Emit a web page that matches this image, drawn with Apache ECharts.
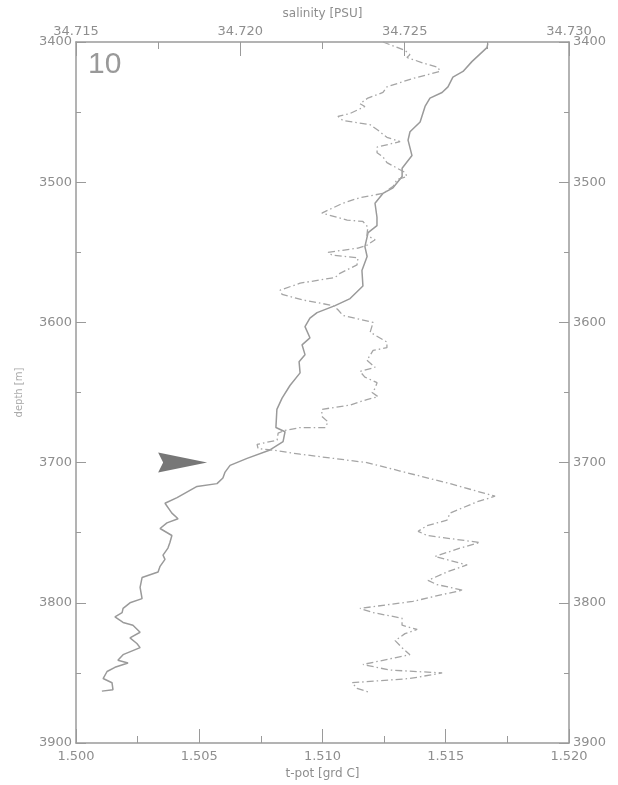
<!DOCTYPE html>
<html>
<head>
<meta charset="utf-8">
<script src="https://cdn.jsdelivr.net/npm/echarts@6/dist/echarts.min.js"></script>
<style>
  html, body { margin: 0; padding: 0; background: #fff; }
  #chart { width: 618px; height: 785px; }
</style>
</head>
<body>
<div id="chart"></div>
<script>
// axis ticks
const tpotTicks = [1.500, 1.505, 1.510, 1.515, 1.520]
const salTicks = [34.715, 34.720, 34.725, 34.730]
const depthTicks = [3400, 3500, 3600, 3700, 3800, 3900]

// potential temperature profile (solid)
const tpotDepth = [
  3401, 3404, 3414, 3421, 3425, 3432, 3436, 3440, 3446, 3457, 3464, 3470, 3481, 3490, 3496,
  3504, 3508, 3515, 3525, 3531, 3536, 3546, 3553, 3563, 3574, 3583, 3588, 3593, 3597,
  3603, 3611, 3616, 3623, 3628, 3636, 3645, 3654, 3662, 3675, 3678, 3685, 3691, 3697,
  3702, 3707, 3711, 3715, 3717, 3725, 3729, 3736, 3740, 3743, 3747, 3752, 3757, 3761,
  3766, 3769, 3774, 3778, 3782, 3789, 3797, 3800, 3804, 3807, 3810, 3814, 3816, 3821,
  3825, 3829, 3832, 3837, 3841, 3843, 3846, 3849, 3854, 3857, 3862, 3863
]
const tpot = [
  1.51671, 1.51667, 1.51606, 1.51570, 1.51529, 1.51509, 1.51485, 1.51436, 1.51416, 1.51396, 1.51355, 1.51347, 1.51363, 1.51323, 1.51323,
  1.51286, 1.51245, 1.51213, 1.51221, 1.51221, 1.51185, 1.51172, 1.51181, 1.51160, 1.51164, 1.51112, 1.51051, 1.50978, 1.50949,
  1.50929, 1.50949, 1.50917, 1.50929, 1.50905, 1.50909, 1.50868, 1.50836, 1.50815, 1.50811, 1.50848, 1.50840, 1.50787, 1.50694,
  1.50625, 1.50604, 1.50596, 1.50572, 1.50491, 1.50410, 1.50361, 1.50389, 1.50414, 1.50369, 1.50341, 1.50389, 1.50381, 1.50373,
  1.50353, 1.50361, 1.50341, 1.50333, 1.50268, 1.50260, 1.50268, 1.50219, 1.50191, 1.50187, 1.50158, 1.50191, 1.50231, 1.50260,
  1.50219, 1.50247, 1.50260, 1.50191, 1.50170, 1.50211, 1.50158, 1.50126, 1.50110, 1.50146, 1.50150, 1.50105
]

// salinity profile (dash-dot)
const salDepth = [
  3400, 3406, 3409, 3411, 3415, 3418, 3421, 3426, 3432, 3436, 3440, 3444, 3446, 3451, 3453,
  3456, 3459, 3463, 3468, 3471, 3475, 3479, 3482, 3486, 3490, 3493, 3496, 3498, 3503, 3508,
  3511, 3515, 3522, 3527, 3528, 3532, 3538, 3541, 3545, 3547, 3550, 3552, 3554, 3559, 3565,
  3568, 3572, 3577, 3580, 3584, 3588, 3591, 3595, 3600, 3607, 3614, 3618, 3620, 3627, 3632,
  3635, 3639, 3643, 3647, 3650, 3653, 3655, 3659, 3662, 3667, 3671, 3675, 3675, 3677, 3679,
  3684, 3687, 3690, 3691, 3694, 3700, 3706, 3715, 3724, 3728, 3736, 3741, 3745, 3749, 3752,
  3757, 3761, 3767, 3773, 3778, 3784, 3787, 3791, 3794, 3799, 3804, 3807, 3811, 3816, 3819,
  3822, 3827, 3832, 3837, 3844, 3848, 3850, 3854, 3857, 3861, 3864
]
const salinity = [
  34.72434, 34.72501, 34.72516, 34.72507, 34.72556, 34.72601, 34.72608, 34.72525, 34.72446, 34.72434, 34.72388, 34.72364, 34.72379, 34.72334, 34.72297,
  34.72312, 34.72395, 34.72419, 34.72446, 34.72486, 34.72416, 34.72416, 34.72434, 34.72446, 34.72477, 34.72501, 34.72507, 34.72477, 34.72465, 34.72434,
  34.72364, 34.72312, 34.72248, 34.72325, 34.72373, 34.72388, 34.72385, 34.72410, 34.72385, 34.72358, 34.72267, 34.72279, 34.72358, 34.72355, 34.72303,
  34.72288, 34.72182, 34.72121, 34.72127, 34.72191, 34.72282, 34.72297, 34.72312, 34.72404, 34.72395, 34.72446, 34.72446, 34.72404, 34.72385, 34.72410,
  34.72364, 34.72379, 34.72416, 34.72410, 34.72401, 34.72419, 34.72385, 34.72334, 34.72248, 34.72248, 34.72267, 34.72258, 34.72182, 34.72136, 34.72115,
  34.72112, 34.72051, 34.72054, 34.72096, 34.72182, 34.72385, 34.72486, 34.72638, 34.72775, 34.72720, 34.72638, 34.72629, 34.72568, 34.72541, 34.72568,
  34.72729, 34.72668, 34.72592, 34.72690, 34.72629, 34.72571, 34.72598, 34.72677, 34.72617, 34.72525, 34.72364, 34.72404, 34.72492, 34.72492, 34.72538,
  34.72501, 34.72471, 34.72492, 34.72516, 34.72373, 34.72455, 34.72614, 34.72516, 34.72340, 34.72355, 34.72395
]

// arrow marking the interface: [t-pot, depth] of the tip
const arrowTip = [1.5053, 3700]

const GREY = '#8e8e8e'
const LINE = '#9a9a9a'

const chart = echarts.init(document.getElementById('chart'), null, { renderer: 'canvas' })

const axisCommon = {
  axisLine: { show: true, onZero: false, lineStyle: { color: LINE, width: 1.5 } },
  splitLine: { show: false },
  axisLabel: { color: GREY, fontSize: 13, fontFamily: 'DejaVu Sans' },
  nameTextStyle: { color: GREY, fontSize: 12, fontFamily: 'DejaVu Sans' },
  nameLocation: 'middle',
}

chart.setOption({
  animation: false,
  grid: { left: 76, top: 42, width: 493, height: 701, containLabel: false },
  xAxis: [
    {
      ...axisCommon,
      type: 'value',
      position: 'bottom',
      min: tpotTicks[0],
      max: tpotTicks[tpotTicks.length - 1],
      interval: 0.005,
      name: 't-pot [grd C]',
      nameGap: 25,
      axisTick: { inside: true, length: 14, lineStyle: { color: LINE } },
      minorTick: { show: true, splitNumber: 2, length: 7, lineStyle: { color: LINE } },
      axisLabel: { ...axisCommon.axisLabel, margin: 7, formatter: v => v.toFixed(3) },
    },
    {
      ...axisCommon,
      type: 'value',
      position: 'top',
      min: salTicks[0],
      max: salTicks[salTicks.length - 1],
      interval: 0.005,
      name: 'salinity [PSU]',
      nameGap: 22,
      axisTick: { inside: true, length: 14, lineStyle: { color: LINE } },
      minorTick: { show: true, splitNumber: 2, length: 7, lineStyle: { color: LINE } },
      axisLabel: { ...axisCommon.axisLabel, margin: 4, formatter: v => v.toFixed(3) },
    },
  ],
  yAxis: [
    {
      ...axisCommon,
      type: 'value',
      position: 'left',
      inverse: true,
      min: depthTicks[0],
      max: depthTicks[depthTicks.length - 1],
      interval: 100,
      name: 'depth [m]',
      nameGap: 52,
      nameTextStyle: { color: '#aaaaaa', fontSize: 10, fontFamily: 'DejaVu Sans' },
      axisTick: { inside: true, length: 10, lineStyle: { color: LINE } },
      minorTick: { show: true, splitNumber: 2, length: 5, lineStyle: { color: LINE } },
      axisLabel: { ...axisCommon.axisLabel, margin: 4, formatter: v => String(v) },
    },
    {
      ...axisCommon,
      type: 'value',
      position: 'right',
      inverse: true,
      min: depthTicks[0],
      max: depthTicks[depthTicks.length - 1],
      interval: 100,
      axisTick: { inside: true, length: 10, lineStyle: { color: LINE } },
      minorTick: { show: true, splitNumber: 2, length: 5, lineStyle: { color: LINE } },
      axisLabel: { ...axisCommon.axisLabel, margin: 4, formatter: v => String(v) },
    },
  ],
  graphic: [
    {
      type: 'text',
      left: 88,
      top: 50,
      style: { text: '10', fill: '#999', fontSize: 30, fontFamily: 'Liberation Sans' },
    },
  ],
  series: [
    {
      name: 't-pot',
      type: 'line',
      xAxisIndex: 0,
      yAxisIndex: 0,
      data: tpot.map((v, i) => [v, tpotDepth[i]]),
      showSymbol: false,
      lineStyle: { color: LINE, width: 1.5 },
    },
    {
      name: 'salinity',
      type: 'line',
      xAxisIndex: 1,
      yAxisIndex: 0,
      data: salinity.map((v, i) => [v, salDepth[i]]),
      showSymbol: false,
      lineStyle: { color: '#a5a5a5', width: 1.3, type: [7, 3, 1.5, 3] },
    },
    {
      name: 'arrow',
      type: 'scatter',
      xAxisIndex: 0,
      yAxisIndex: 0,
      data: [arrowTip],
      symbol: 'path://M0,0L49,10L0,20L5,10Z',
      symbolSize: [49, 20],
      symbolOffset: [-24, 0],
      itemStyle: { color: '#555555' },
    },
  ],
})
</script>
</body>
</html>
